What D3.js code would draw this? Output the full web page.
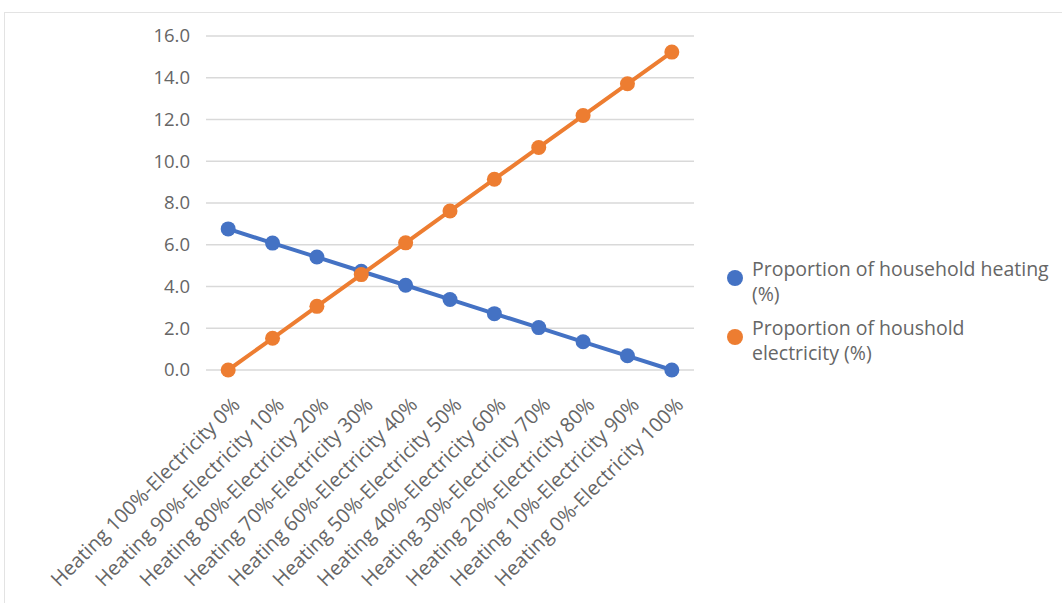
<!DOCTYPE html>
<html><head><meta charset="utf-8">
<script src="https://cdn.jsdelivr.net/npm/d3@7"></script>
<style>body{margin:0;background:#fff;} text{font-family:"Open Sans",sans-serif;}</style>
</head><body><svg id="c" width="1062" height="603"></svg>
<script>
const categories = ["Heating 100%-Electricity 0%","Heating 90%-Electricity 10%","Heating 80%-Electricity 20%","Heating 70%-Electricity 30%","Heating 60%-Electricity 40%","Heating 50%-Electricity 50%","Heating 40%-Electricity 60%","Heating 30%-Electricity 70%","Heating 20%-Electricity 80%","Heating 10%-Electricity 90%","Heating 0%-Electricity 100%"];
const heating = [6.76, 6.08, 5.41, 4.73, 4.06, 3.38, 2.70, 2.03, 1.35, 0.68, 0.0];
const electricity = [0.0, 1.52, 3.05, 4.57, 6.09, 7.62, 9.14, 10.66, 12.19, 13.71, 15.23];
const yTicks = [0, 2, 4, 6, 8, 10, 12, 14, 16];
const seriesNames = [["Proportion of household heating","(%)"],["Proportion of houshold","electricity (%)"]];
const colors = ["#4472C4", "#ED7D31"];
const textColor = "#666666";

const svg = d3.select("#c");
svg.append("rect").attr("x",4.5).attr("y",12.5).attr("width",1100).attr("height",620)
  .attr("fill","none").attr("stroke","#e3e3e3");

const x = d3.scaleBand().domain(categories).range([206, 694]);
const y = d3.scaleLinear().domain([0,16]).range([370, 36]);

const grid = svg.append("g");
grid.selectAll("line").data(yTicks).join("line")
  .attr("x1",206).attr("x2",694).attr("y1",d=>y(d)).attr("y2",d=>y(d))
  .attr("stroke","#d9d9d9").attr("stroke-width",1.5);

const ya = svg.append("g").attr("transform","translate(193,0)")
  .call(d3.axisLeft(y).tickValues(yTicks).tickFormat(d3.format(".1f")).tickSize(0));
ya.select(".domain").remove();
ya.selectAll("text").attr("fill",textColor).style("font-size","18.5px").attr("dx","0");

const xa = svg.append("g").attr("transform","translate(0,370)")
  .call(d3.axisBottom(x).tickSize(0));
xa.select(".domain").remove();
xa.selectAll("text").attr("fill",textColor).style("font-size","20px")
  .attr("text-anchor","end").attr("dy","0.35em").attr("y",0)
  .attr("transform","translate(8,31) rotate(-45)");

const cx = d => x(d) + x.bandwidth()/2;
[heating, electricity].forEach((vals,i)=>{
  const data = categories.map((c,j)=>({c, v: vals[j]}));
  svg.append("path").datum(data)
    .attr("d", d3.line().x(d=>cx(d.c)).y(d=>y(d.v)))
    .attr("fill","none").attr("stroke",colors[i]).attr("stroke-width",4);
  svg.append("g").selectAll("circle").data(data).join("circle")
    .attr("cx",d=>cx(d.c)).attr("cy",d=>y(d.v)).attr("r",7.5)
    .attr("fill",colors[i]);
});

const leg = svg.append("g");
const legY = [278, 337];
seriesNames.forEach((lines,i)=>{
  leg.append("circle").attr("cx",735).attr("cy",legY[i]).attr("r",8).attr("fill",colors[i]);
  const t = leg.append("text").attr("x",752).attr("y",legY[i]-2).attr("fill",textColor).style("font-size","19.5px");
  lines.forEach((l,k)=>t.append("tspan").attr("x",752).attr("dy",k?25:0).text(l));
});
</script></body></html>
